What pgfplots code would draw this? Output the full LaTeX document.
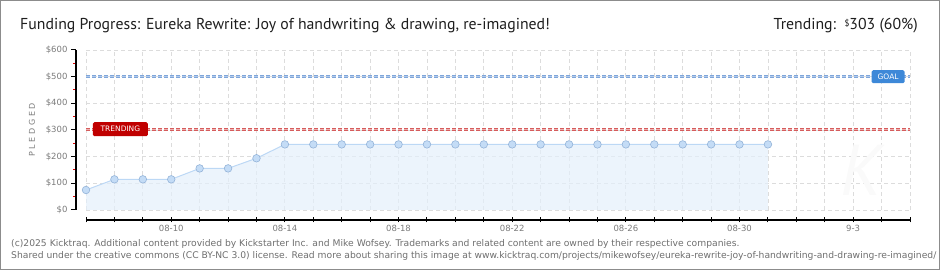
\documentclass[border=0pt]{standalone}
\usepackage{fontspec}
\setmainfont{PT Sans}
\newfontfamily\labelfont{DejaVu Sans}
\newfontfamily\footfont{DejaVu Sans}
\usepackage{pgfplots}
\pgfplotsset{compat=1.18}

\definecolor{framegray}{HTML}{8C8C8C}
\definecolor{titletext}{HTML}{1E1E1E}
\definecolor{ticktext}{HTML}{7A7A7A}
\definecolor{foottext}{HTML}{6E6E6E}
\definecolor{gridgray}{HTML}{DCDCDC}
\definecolor{areafill}{HTML}{E4EFFB}
\definecolor{arealine}{HTML}{BCD8F5}
\definecolor{markfill}{HTML}{C4DCF6}
\definecolor{markdraw}{HTML}{93B3D8}
\definecolor{goalline}{HTML}{7FA6DA}
\definecolor{goallight}{HTML}{B3CBEC}
\definecolor{goalbox}{HTML}{3D88D8}
\definecolor{trendline}{HTML}{D65C5C}
\definecolor{trendlight}{HTML}{EDB0B0}
\definecolor{trendbox}{HTML}{C00000}
\definecolor{minortick}{HTML}{E00000}

\begin{document}
\begin{tikzpicture}[x=1pt,y=1pt]
\useasboundingbox (0,0) rectangle (940,270);

% title and trending figure
\node[anchor=base west, inner sep=0, text=titletext] at (20,240)
  {\fontsize{15.8}{18}\selectfont Funding Progress: Eureka Rewrite: Joy of handwriting \& drawing, re-imagined!};
\node[anchor=base east, inner sep=0, text=titletext] at (918,240)
  {\fontsize{15.8}{18}\selectfont Trending:\ \ \raisebox{3.5pt}{\fontsize{9}{9}\selectfont\$}303 (60\%)};

% vertical axis caption
\node[rotate=90, text=ticktext, font=\labelfont\fontsize{8}{9}\selectfont] at (32,140)
  {P\,\,L\,\,E\,\,D\,\,G\,\,E\,\,D};

\begin{axis}[
  at={(86pt,60pt)}, anchor=south west,
  scale only axis, width=824pt, height=160pt,
  xmin=0, xmax=29, ymin=0, ymax=600,
  clip=false,
  axis x line*=bottom, axis y line*=left,
  axis x line shift=10pt, axis y line shift=10pt,
  axis line style={black, line width=1.2pt, -},
  xtick={0,...,29},
  xticklabels={,,,08-10,,,,08-14,,,,08-18,,,,08-22,,,,08-26,,,,08-30,,,,9-3,,},
  ytick={0,100,...,600},
  yticklabels={\$0,\$100,\$200,\$300,\$400,\$500,\$600},
  minor ytick={50,150,...,550},
  xtick align=center, ytick align=outside,
  major tick length=5pt, minor tick length=3pt,
  tick style={black, line width=1pt},
  minor tick style={minortick, line width=1pt},
  ticklabel style={text=ticktext, font=\labelfont\fontsize{8.5}{9}\selectfont},
  xticklabel style={yshift=1pt},
  xmajorgrids, ymajorgrids,
  major grid style={gridgray, line width=0.8pt, dash pattern=on 4pt off 3pt},
]

% faint watermark letter
\node[text=black!2, inner sep=0, font=\fontsize{72}{72}\selectfont\itshape] at (axis cs:27.3,150) {K};

% pledged amount per day
\addplot[fill=areafill, fill opacity=0.7, draw=none] coordinates {
  (0,75) (1,115) (2,115) (3,115) (4,156) (5,156) (6,194)
  (7,246) (8,246) (9,246) (10,246) (11,246) (12,246) (13,246) (14,246)
  (15,246) (16,246) (17,246) (18,246) (19,246) (20,246) (21,246) (22,246)
  (23,246) (24,246)
} \closedcycle;

% goal line
\addplot[goalline, line width=3pt, dash pattern=on 4pt off 2pt] coordinates {(0,500) (29,500)};
\addplot[goallight, line width=1pt, dash pattern=on 4pt off 2pt] coordinates {(0,500) (29,500)};
% trending line
\addplot[trendline, line width=3pt, dash pattern=on 4pt off 2pt] coordinates {(0,303) (29,303)};
\addplot[trendlight, line width=1pt, dash pattern=on 4pt off 2pt] coordinates {(0,303) (29,303)};

\addplot[arealine, line width=1pt, mark=*, mark size=3.8pt,
  mark options={fill=markfill, draw=markdraw, line width=0.6pt}] coordinates {
  (0,75) (1,115) (2,115) (3,115) (4,156) (5,156) (6,194)
  (7,246) (8,246) (9,246) (10,246) (11,246) (12,246) (13,246) (14,246)
  (15,246) (16,246) (17,246) (18,246) (19,246) (20,246) (21,246) (22,246)
  (23,246) (24,246)
};

\node[fill=trendbox, text=white, rounded corners=1.5pt, minimum width=55pt,
  minimum height=14pt, inner sep=0, font=\labelfont\fontsize{7.5}{8}\selectfont]
  at (axis cs:1.21,303) {TRENDING};
\node[fill=goalbox, text=white, rounded corners=1.5pt, minimum width=33pt,
  minimum height=13pt, inner sep=0, font=\labelfont\fontsize{7.5}{8}\selectfont]
  at (axis cs:28.23,500) {GOAL};
\end{axis}

% footer
\begin{scope}
\clip (0,0) rectangle (938,270);
\node[anchor=base west, inner sep=0, text=foottext, font=\footfont\fontsize{9.2}{10}\selectfont] at (11,23)
  {(c)2025 Kicktraq. Additional content provided by Kickstarter Inc. and Mike Wofsey. Trademarks and related content are owned by their respective companies.};
\node[anchor=base west, inner sep=0, text=foottext, font=\footfont\fontsize{9.2}{10}\selectfont] at (11,11)
  {Shared under the creative commons (CC BY-NC 3.0) license. Read more about sharing this image at www.kicktraq.com/projects/mikewofsey/eureka-rewrite-joy-of-handwriting-and-drawing-re-imagined/};
\end{scope}

\draw[framegray, line width=1pt] (0.5,0.5) rectangle (939.5,269.5);
\end{tikzpicture}
\end{document}
